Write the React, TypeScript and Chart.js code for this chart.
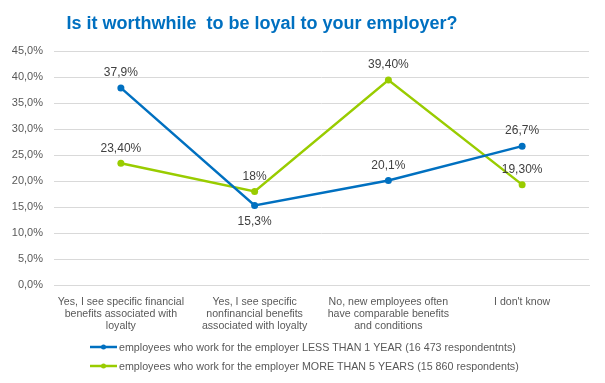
import React, { useEffect, useRef } from "react";
import { Chart, registerables } from "chart.js";

Chart.register(...registerables);

const categories: string[][] = [
  ["Yes, I see specific financial", "benefits associated with", "loyalty"],
  ["Yes, I see specific", "nonfinancial benefits", "associated with loyalty"],
  ["No, new employees often", "have comparable benefits", "and conditions"],
  ["I don't know"],
];
const lessThan1Year = [37.9, 15.3, 20.1, 26.7];
const lessThan1YearLabels = ["37,9%", "15,3%", "20,1%", "26,7%"];
const lessThan1YearLabelPos = ["above", "below", "above", "above"];
const moreThan5Years = [23.4, 18, 39.4, 19.3];
const moreThan5YearsLabels = ["23,40%", "18%", "39,40%", "19,30%"];
const moreThan5YearsLabelPos = ["above", "above", "above", "above"];
const seriesNames = [
  "employees who work for the employer LESS THAN 1 YEAR (16 473 respondentnts)",
  "employees who work for the employer MORE THAN 5 YEARS (15 860 respondents)",
];
const titleText = "Is it worthwhile  to be loyal to your employer?";
const yMax = 45;
const yStep = 5;

const BLUE = "#0070C0";
const GREEN = "#99CC00";
const FONT = "'Liberation Sans', Arial, sans-serif";

export default function App() {
  const ref = useRef<HTMLCanvasElement | null>(null);
  useEffect(() => {
    if (!ref.current) return;
    const labelSets = [
      { texts: lessThan1YearLabels, pos: lessThan1YearLabelPos },
      { texts: moreThan5YearsLabels, pos: moreThan5YearsLabelPos },
    ];
    const overlay = {
      id: "overlay",
      afterDatasetsDraw(chart: any) {
        const ctx = chart.ctx as CanvasRenderingContext2D;
        ctx.save();
        // title
        ctx.font = `bold 18px ${FONT}`;
        ctx.fillStyle = BLUE;
        ctx.textAlign = "center";
        ctx.textBaseline = "middle";
        ctx.fillText(titleText, 262, 24);
        // data labels
        ctx.font = `12px ${FONT}`;
        ctx.fillStyle = "#404040";
        chart.data.datasets.forEach((ds: any, di: number) => {
          const meta = chart.getDatasetMeta(di);
          meta.data.forEach((pt: any, i: number) => {
            const set = labelSets[di];
            const dy = set.pos[i] === "below" ? 16 : -15;
            ctx.fillText(set.texts[i], pt.x, pt.y + dy);
          });
        });
        // legend
        ctx.font = `10.7px ${FONT}`;
        ctx.textAlign = "left";
        const colors = [BLUE, GREEN];
        seriesNames.forEach((name, i) => {
          const y = 347 + i * 19;
          ctx.strokeStyle = colors[i];
          ctx.lineWidth = 2.5;
          ctx.beginPath();
          ctx.moveTo(90, y);
          ctx.lineTo(117, y);
          ctx.stroke();
          ctx.fillStyle = colors[i];
          ctx.beginPath();
          ctx.arc(103.5, y, 2.5, 0, Math.PI * 2);
          ctx.fill();
          ctx.fillStyle = "#595959";
          ctx.fillText(name, 119, y + 1);
        });
        ctx.restore();
      },
    };
    const chart = new Chart(ref.current, {
      type: "line",
      data: {
        labels: categories,
        datasets: [
          {
            label: seriesNames[0],
            data: lessThan1Year,
            borderColor: BLUE,
            backgroundColor: BLUE,
            borderWidth: 2.5,
            pointRadius: 3.5,
            pointBorderWidth: 0,
            tension: 0,
          },
          {
            label: seriesNames[1],
            data: moreThan5Years,
            borderColor: GREEN,
            backgroundColor: GREEN,
            borderWidth: 2.5,
            pointRadius: 3.5,
            pointBorderWidth: 0,
            tension: 0,
          },
        ],
      },
      options: {
        responsive: false,
        animation: false,
        layout: { padding: { top: 51, right: 16, bottom: 40, left: 0 } },
        plugins: {
          legend: { display: false },
          title: { display: false },
          tooltip: { enabled: false },
        },
        scales: {
          x: {
            offset: true,
            grid: { display: false },
            border: { display: true, color: "#d9d9d9" },
            ticks: {
              color: "#595959",
              font: { family: FONT, size: 10.6, lineHeight: 1.13 },
              padding: 3,
              maxRotation: 0,
              autoSkip: false,
            },
            afterFit(scale: any) {
              scale.height = 58;
            },
          },
          y: {
            min: 0,
            max: yMax,
            grid: { color: "#d9d9d9", drawTicks: false, lineWidth: 1 },
            border: { display: false },
            ticks: {
              stepSize: yStep,
              color: "#595959",
              font: { family: FONT, size: 11 },
              padding: 11,
              callback: (v: any) => Number(v).toFixed(1).replace(".", ",") + "%",
            },
            afterFit(scale: any) {
              scale.width = 54;
            },
          },
        },
      },
      plugins: [overlay],
    });
    return () => chart.destroy();
  }, []);
  return (
    <div style={{ position: "fixed", left: 0, top: 0, width: 605, height: 383, background: "#fff" }}>
      <canvas ref={ref} width={605} height={383} style={{ width: 605, height: 383 }} />
    </div>
  );
}
